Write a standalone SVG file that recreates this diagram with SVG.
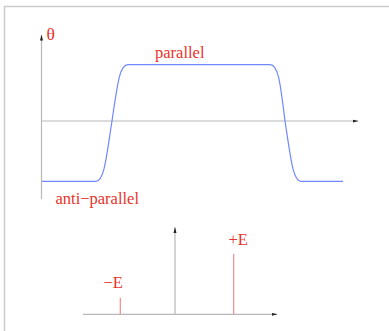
<svg xmlns="http://www.w3.org/2000/svg" width="389" height="331" viewBox="0 0 389 331">
<defs>
<style>
.frame{fill:none;stroke:#cccccc;stroke-width:1.5}
.axis{fill:none;stroke:#b8b8b8;stroke-width:1.2}
.curve{fill:none;stroke:#7088ff;stroke-width:1.2}
.spike{stroke:#f08a8a;stroke-width:1.2}
.lbl{font-family:"Liberation Serif","Times New Roman",serif;font-size:16.5px;fill:#e8332b}
</style>
<marker id="ah" markerWidth="6" markerHeight="4" refX="5.5" refY="2" orient="auto" markerUnits="userSpaceOnUse">
<path d="M0,0.5 L6,2 L0,3.5 Z" fill="#222"/>
</marker>
</defs>
<rect width="389" height="331" fill="#ffffff"/>
<path class="frame" d="M4.5,331 V6.5 H389"/>
<g id="connectors">
<line class="axis" x1="41.5" y1="199" x2="41.5" y2="35" marker-end="url(#ah)"/>
<line class="axis" x1="41" y1="121" x2="358" y2="121" marker-end="url(#ah)"/>
<line class="axis" x1="175" y1="314" x2="175" y2="227.5" marker-end="url(#ah)"/>
<line class="axis" x1="83" y1="314.3" x2="277" y2="314.3" marker-end="url(#ah)"/>
<path class="curve" d="M42,181.3 L96,181.3 C104,181.3 106,160 112,121 C118,80 120,64.7 128,64.7 L270,64.7 C278,64.7 280,80 285,121 C291,160 293,181.3 301,181.3 L343,181.3"/>
<line class="spike" x1="120.3" y1="297.7" x2="120.3" y2="314"/>
<line class="spike" x1="233.7" y1="254" x2="233.7" y2="314"/>
</g>
<g id="theta"><text class="lbl" x="46.5" y="40" style="font-size:17.5px">θ</text></g>
<g id="parallel"><text class="lbl" x="155" y="57.5">parallel</text></g>
<g id="antiparallel"><text class="lbl" x="55.5" y="204">anti−parallel</text></g>
<g id="minusE"><text class="lbl" x="103.5" y="287.5">−E</text></g>
<g id="plusE"><text class="lbl" x="228.5" y="245">+E</text></g>
</svg>
